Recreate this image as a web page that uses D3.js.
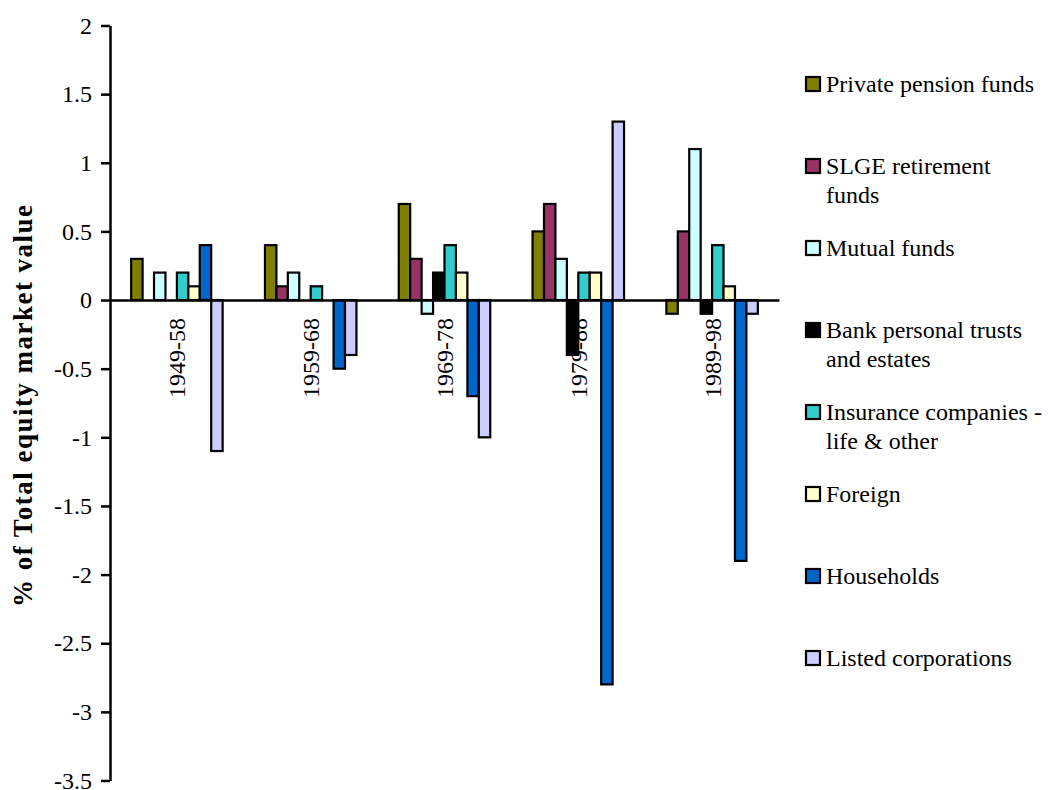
<!DOCTYPE html>
<html>
<head>
<meta charset="utf-8">
<script src="https://cdn.jsdelivr.net/npm/d3@7"></script>
<style>
  html, body { margin: 0; padding: 0; background: #fff; }
  svg, svg text { font-family: "Liberation Serif", "Times New Roman", serif; }
</style>
</head>
<body>
<svg id="chart" width="1048" height="790"></svg>
<script>
const categories = ["1949-58", "1959-68", "1969-78", "1979-88", "1989-98"];
const seriesNames = [
  "Private pension funds",
  "SLGE retirement funds",
  "Mutual funds",
  "Bank personal trusts and estates",
  "Insurance companies - life & other",
  "Foreign",
  "Households",
  "Listed corporations"
];
const legendLines = [
  ["Private pension funds"],
  ["SLGE retirement", "funds"],
  ["Mutual funds"],
  ["Bank personal trusts", "and estates"],
  ["Insurance companies -", "life & other"],
  ["Foreign"],
  ["Households"],
  ["Listed corporations"]
];
const seriesColors = ["#808000", "#993366", "#CCFFFF", "#000000", "#33CCCC", "#FFFFCC", "#0066CC", "#CCCCFF"];
// values per series, in category order
const privatePension = [0.3, 0.4, 0.7, 0.5, -0.1];
const slgeRetirement = [0.0, 0.1, 0.3, 0.7, 0.5];
const mutualFunds    = [0.2, 0.2, -0.1, 0.3, 1.1];
const bankTrusts     = [0.0, 0.0, 0.2, -0.4, -0.1];
const insurance      = [0.2, 0.1, 0.4, 0.2, 0.4];
const foreign        = [0.1, 0.0, 0.2, 0.2, 0.1];
const households     = [0.4, -0.5, -0.7, -2.8, -1.9];
const listedCorps    = [-1.1, -0.4, -1.0, 1.3, -0.1];
const yTicks = [2, 1.5, 1, 0.5, 0, -0.5, -1, -1.5, -2, -2.5, -3, -3.5];
const yTitle = "% of Total equity market value";

const seriesValues = [privatePension, slgeRetirement, mutualFunds, bankTrusts, insurance, foreign, households, listedCorps];
const FONT = "Liberation Serif, Times New Roman, serif";

const svg = d3.select("#chart");
const plotLeft = 110, plotRight = 779, plotTop = 25.5, plotBottom = 780.5;

const x0 = d3.scaleBand().domain(categories).range([plotLeft, plotRight]).paddingInner(0).paddingOuter(0);
const x1 = d3.scaleBand().domain(d3.range(seriesNames.length)).range([0, x0.bandwidth()])
  .paddingInner(0).paddingOuter(1.85);
const y = d3.scaleLinear().domain([-3.5, 2]).range([plotBottom, plotTop]);

// bars
const data = [];
categories.forEach((c, ci) => {
  seriesValues.forEach((vals, si) => {
    data.push({ cat: c, s: si, v: vals[ci] });
  });
});
svg.append("g").selectAll("rect").data(data.filter(d => d.v !== 0)).join("rect")
  .attr("x", d => x0(d.cat) + x1(d.s))
  .attr("y", d => y(Math.max(0, d.v)))
  .attr("width", x1.bandwidth())
  .attr("height", d => Math.abs(y(d.v) - y(0)))
  .attr("fill", d => seriesColors[d.s])
  .attr("stroke", "#000")
  .attr("stroke-width", 2.2);

// y axis
const yAxis = d3.axisLeft(y).tickValues(yTicks).tickFormat(d => String(d)).tickSize(9).tickSizeOuter(0).tickPadding(9);
const gy = svg.append("g").attr("transform", `translate(${plotLeft},0)`).call(yAxis)
  .attr("font-family", FONT).attr("font-size", 24);
gy.select(".domain").attr("stroke", "#000").attr("stroke-width", 2.5);
gy.selectAll(".tick line").attr("stroke", "#000").attr("stroke-width", 2.5);
gy.selectAll(".tick text").attr("fill", "#000");

// x axis line at zero
const xAxis = d3.axisBottom(x0).tickSize(0).tickSizeOuter(0).tickFormat("");
const gx = svg.append("g").attr("transform", `translate(0,${y(0)})`).call(xAxis);
gx.select(".domain").attr("stroke", "#000").attr("stroke-width", 2.5);

// category labels
svg.append("g").selectAll("text").data(categories).join("text")
  .attr("transform", d => `translate(${x0(d) + x0.bandwidth() / 2},318) rotate(-90)`)
  .attr("text-anchor", "end")
  .attr("dy", "0.35em")
  .attr("font-family", FONT)
  .attr("font-size", 24)
  .attr("fill", "#000")
  .text(d => d);

// y title
svg.append("text")
  .attr("transform", "translate(32,406) rotate(-90)")
  .attr("text-anchor", "middle")
  .attr("font-family", FONT)
  .attr("font-size", 27)
  .attr("font-weight", "bold")
  .attr("textLength", 402)
  .attr("lengthAdjust", "spacing")
  .attr("fill", "#000")
  .text(yTitle);

// legend
const legendY = d3.scalePoint().domain(d3.range(seriesNames.length)).range([84, 658]);
const lg = svg.append("g").selectAll("g").data(seriesNames).join("g")
  .attr("transform", (d, i) => `translate(806,${legendY(i)})`);
lg.append("rect")
  .attr("x", 0).attr("y", -7).attr("width", 14).attr("height", 14)
  .attr("fill", (d, i) => seriesColors[i])
  .attr("stroke", "#000").attr("stroke-width", 2.2);
lg.append("text")
  .attr("font-family", FONT)
  .attr("font-size", 24)
  .attr("fill", "#000")
  .selectAll("tspan").data((d, i) => legendLines[i]).join("tspan")
  .attr("x", 20)
  .attr("dy", (d, j) => j === 0 ? "0.35em" : "1.2em")
  .text(d => d);
</script>
</body>
</html>
